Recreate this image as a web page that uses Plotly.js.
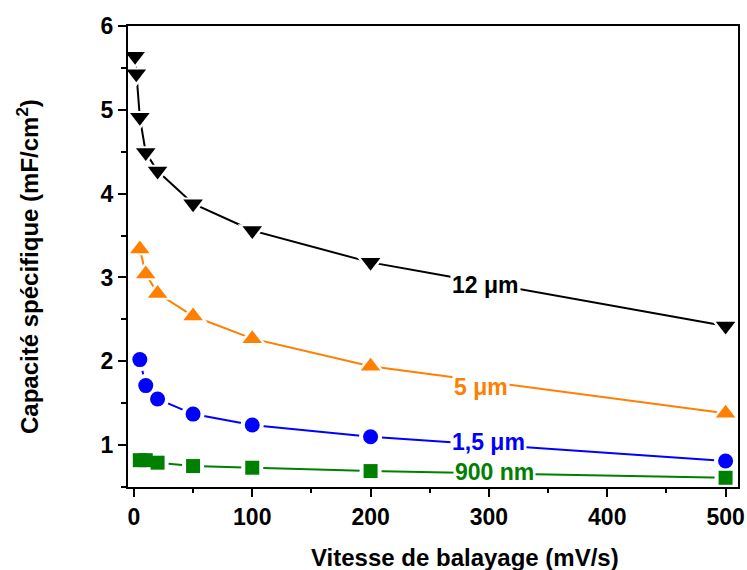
<!DOCTYPE html>
<html>
<head>
<meta charset="utf-8">
<script src="https://cdn.plot.ly/plotly-3.0.1.min.js"></script>
<style>html,body{margin:0;padding:0;background:#fff;}#chart{width:747px;height:570px;}</style>
</head>
<body>
<div id="chart"></div>
<script>
// Scan rate (mV/s)
const x12 = [1, 2, 5, 10, 20, 50, 100, 200, 500];
const y12 = [5.64, 5.43, 4.91, 4.49, 4.27, 3.88, 3.56, 3.18, 2.42];
const x5 = [5, 10, 20, 50, 100, 200, 500];
const y5 = [3.34, 3.04, 2.81, 2.54, 2.27, 1.94, 1.38];
const x15 = [5, 10, 20, 50, 100, 200, 500];
const y15 = [2.02, 1.71, 1.55, 1.37, 1.24, 1.10, 0.81];
const x900 = [5, 10, 20, 50, 100, 200, 500];
const y900 = [0.82, 0.82, 0.79, 0.75, 0.73, 0.69, 0.61];
const seriesLabels = ['12 μm', '5 μm', '1,5 μm', '900 nm'];
const xTickVals = [0, 100, 200, 300, 400, 500];
const yTickVals = [1, 2, 3, 4, 5, 6];

const FONT = 'Liberation Sans, Arial, sans-serif';
const series = [
  {x: x12, y: y12, color: '#000000', symbol: 'triangle-down', size: 17, halo: 25},
  {x: x5, y: y5, color: '#FF8000', symbol: 'triangle-up', size: 17, halo: 25},
  {x: x15, y: y15, color: '#0000FF', symbol: 'circle', size: 15, halo: 23},
  {x: x900, y: y900, color: '#008000', symbol: 'square', size: 14, halo: 22}
];

const traces = [];
series.forEach((s, i) => traces.push({
  x: s.x, y: s.y, type: 'scatter', mode: 'lines', name: seriesLabels[i],
  line: {color: s.color, width: 2}, hoverinfo: 'skip', showlegend: false
}));
series.forEach((s, i) => traces.push({
  x: s.x, y: s.y, type: 'scatter', mode: 'markers', name: seriesLabels[i] + ' gap',
  marker: {color: '#ffffff', symbol: s.symbol, size: s.halo, line: {width: 0}},
  hoverinfo: 'skip', showlegend: false
}));
series.forEach((s, i) => traces.push({
  x: s.x, y: s.y, type: 'scatter', mode: 'markers', name: seriesLabels[i],
  marker: {color: s.color, symbol: s.symbol, size: s.size, line: {width: 0}},
  showlegend: false
}));

const labelPos = [
  {x: 267, y: 2.905},
  {x: 268.5, y: 1.694},
  {x: 267, y: 1.036},
  {x: 269.5, y: 0.68}
];
const annotations = seriesLabels.map((t, i) => ({
  x: labelPos[i].x, y: labelPos[i].y, xref: 'x', yref: 'y',
  text: t, showarrow: false, xanchor: 'left', yanchor: 'middle',
  bgcolor: '#ffffff', borderpad: 1,
  font: {family: FONT, size: 23, color: series[i].color, weight: 'bold'}
}));
annotations.push({
  xref: 'paper', yref: 'paper', x: 0.553, y: -0.1526,
  text: 'Vitesse de balayage (mV/s)', showarrow: false,
  xanchor: 'center', yanchor: 'middle',
  font: {family: FONT, size: 24, color: '#000', weight: 'bold'}
});
annotations.push({
  xref: 'paper', yref: 'paper', x: -0.165, y: 0.478,
  text: 'Capacité spécifique (mF/cm<sup>2</sup>)', showarrow: false, textangle: -90,
  xanchor: 'center', yanchor: 'middle',
  font: {family: FONT, size: 24, color: '#000', weight: 'bold'}
});

const layout = {
  width: 747, height: 570,
  margin: {l: 128, r: 9, t: 26, b: 83, pad: 0},
  paper_bgcolor: '#ffffff', plot_bgcolor: '#ffffff',
  font: {family: FONT, size: 23, color: '#000'},
  showlegend: false,
  xaxis: {
    range: [-5, 510.5], tickvals: xTickVals,
    ticks: 'outside', ticklen: 8, tickwidth: 2, tickcolor: '#000',
    showline: true, linewidth: 2, linecolor: '#000', mirror: true,
    showgrid: false, zeroline: false,
    tickfont: {family: FONT, size: 23, color: '#000', weight: 'bold'},
    minor: {dtick: 50, tick0: 0, ticks: 'outside', ticklen: 4, tickwidth: 2, tickcolor: '#000', showgrid: false}
  },
  yaxis: {
    range: [0.5, 6], tickvals: yTickVals,
    ticks: 'outside', ticklen: 8, tickwidth: 2, tickcolor: '#000',
    showline: true, linewidth: 2, linecolor: '#000', mirror: true,
    showgrid: false, zeroline: false,
    tickfont: {family: FONT, size: 23, color: '#000', weight: 'bold'},
    minor: {dtick: 0.5, tick0: 0, ticks: 'outside', ticklen: 5, tickwidth: 2, tickcolor: '#000', showgrid: false}
  },
  annotations: annotations
};

Plotly.newPlot('chart', traces, layout, {displayModeBar: false, staticPlot: true});
</script>
</body>
</html>
